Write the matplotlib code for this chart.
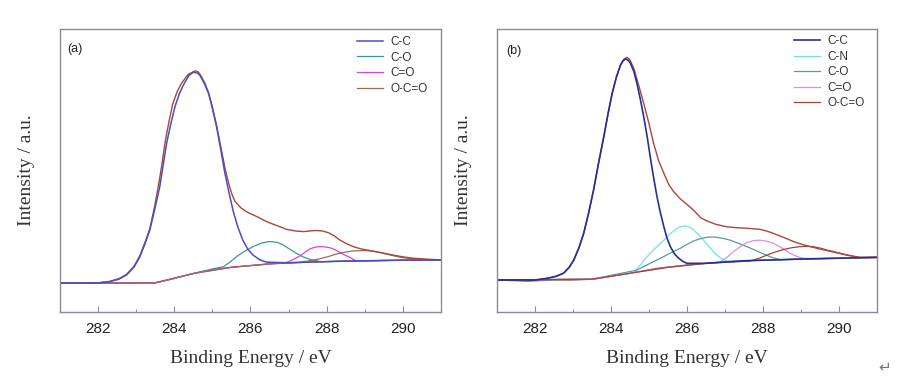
import matplotlib
matplotlib.use('Agg')
import matplotlib.pyplot as plt

# ---- panel (a) ----
bg_a_x = [281.0, 282.0, 283.0, 283.5, 284.0, 284.5, 285.0, 285.5, 286.0, 286.5, 287.0,
          287.5, 288.0, 288.5, 289.0, 289.5, 290.0, 290.5, 291.0]
bg_a_y = [0.102, 0.102, 0.102, 0.103, 0.118, 0.136, 0.150, 0.158, 0.164, 0.170, 0.173,
          0.176, 0.178, 0.180, 0.181, 0.182, 0.183, 0.184, 0.184]

cc_a_x = [281.0, 282.0, 282.3, 282.55, 282.75, 282.95, 283.1, 283.23, 283.36, 283.5, 283.62,
          283.71, 283.8, 283.91, 284.02, 284.13, 284.24, 284.38, 284.5, 284.6, 284.67,
          284.78, 284.9, 285.0, 285.11, 285.22, 285.33, 285.44, 285.55, 285.67, 285.8,
          285.93, 286.07, 286.25, 286.43, 287.0, 288.0, 289.0, 290.0, 291.0]
cc_a_y = [0.102, 0.103, 0.107, 0.116, 0.131, 0.16, 0.196, 0.24, 0.29, 0.37, 0.443,
          0.52, 0.596, 0.665, 0.726, 0.77, 0.802, 0.835, 0.847, 0.845, 0.837,
          0.81, 0.773, 0.72, 0.655, 0.575, 0.49, 0.42, 0.355, 0.3, 0.254,
          0.222, 0.201, 0.184, 0.176, 0.174, 0.178, 0.181, 0.183, 0.184]

env_a_x = [281.0, 282.0, 282.3, 282.55, 282.75, 282.95, 283.1, 283.23, 283.36, 283.48, 283.59,
           283.68, 283.76, 283.86, 283.96, 284.08, 284.2, 284.37, 284.55, 284.63, 284.7,
           284.8, 284.9, 285.0, 285.11, 285.22, 285.33, 285.4, 285.46, 285.53, 285.6,
           285.75, 285.9, 286.2, 286.43, 286.7, 286.95, 287.2, 287.4, 287.6, 287.74,
           287.9, 288.05, 288.2, 288.35, 288.5, 288.7, 288.9, 289.14, 289.5, 289.75,
           290.0, 290.27, 290.6, 291.0]
env_a_y = [0.102, 0.103, 0.108, 0.118, 0.133, 0.163, 0.2, 0.245, 0.295, 0.37, 0.45,
           0.525, 0.6, 0.672, 0.735, 0.78, 0.81, 0.84, 0.852, 0.848, 0.835,
           0.81, 0.775, 0.725, 0.66, 0.585, 0.51, 0.47, 0.44, 0.41, 0.39,
           0.368, 0.354, 0.335, 0.319, 0.305, 0.292, 0.286, 0.284, 0.287, 0.288,
           0.286, 0.28, 0.269, 0.254, 0.243, 0.231, 0.223, 0.217, 0.208, 0.201,
           0.195, 0.19, 0.187, 0.184]

co_a_x = [281.0, 283.5, 284.5, 285.0, 285.29, 285.45, 285.64, 285.85, 286.07, 286.3, 286.51,
          286.7, 286.86, 287.03, 287.21, 287.38, 287.56, 287.85, 288.5, 289.5, 291.0]
co_a_y = [0.102, 0.103, 0.136, 0.152, 0.16, 0.175, 0.196, 0.215, 0.231, 0.244, 0.249,
          0.246, 0.237, 0.222, 0.207, 0.195, 0.186, 0.178, 0.18, 0.182, 0.184]

cdo_a_x = [281.0, 283.5, 284.5, 285.5, 286.5, 286.95, 287.12, 287.3, 287.45, 287.56, 287.7,
           287.82, 287.95, 288.09, 288.22, 288.35, 288.48, 288.61, 288.78, 289.5, 291.0]
cdo_a_y = [0.102, 0.103, 0.136, 0.158, 0.170, 0.175, 0.185, 0.198, 0.213, 0.223, 0.229,
           0.231, 0.230, 0.227, 0.22, 0.21, 0.201, 0.193, 0.18, 0.182, 0.184]

occ_a_x = [281.0, 283.5, 284.5, 285.5, 286.5, 287.3, 287.55, 287.82, 288.05, 288.26, 288.5,
           288.7, 289.05, 289.25, 289.4, 289.62, 289.84, 290.05, 290.27, 290.6, 291.0]
occ_a_y = [0.102, 0.103, 0.136, 0.158, 0.170, 0.176, 0.181, 0.188, 0.196, 0.205, 0.212,
           0.216, 0.217, 0.214, 0.21, 0.203, 0.196, 0.191, 0.188, 0.185, 0.184]

# ---- panel (b) ----
bg_b_x = [281.0, 281.8, 282.5, 283.0, 283.55, 284.0, 284.5, 285.2, 285.6, 286.0, 286.5,
          287.05, 287.5, 288.0, 288.8, 289.5, 290.2, 291.0]
bg_b_y = [0.113, 0.109, 0.113, 0.113, 0.116, 0.126, 0.137, 0.154, 0.16, 0.166, 0.172,
          0.178, 0.181, 0.183, 0.186, 0.189, 0.191, 0.193]

cc_b_x = [281.0, 282.0, 282.32, 282.55, 282.75, 282.9, 283.02, 283.15, 283.28, 283.41, 283.54,
          283.67, 283.81, 283.92, 284.03, 284.14, 284.25, 284.32, 284.38, 284.45, 284.51,
          284.6, 284.68, 284.77, 284.86, 284.95, 285.03, 285.12, 285.21, 285.3, 285.39,
          285.47, 285.56, 285.67, 285.78, 285.9, 286.0, 286.5, 287.5, 289.0, 291.0]
cc_b_y = [0.113, 0.113, 0.119, 0.126, 0.137, 0.158, 0.184, 0.225, 0.278, 0.35, 0.431,
          0.525, 0.62, 0.7, 0.773, 0.83, 0.873, 0.888, 0.894, 0.89, 0.879,
          0.85, 0.808, 0.752, 0.69, 0.62, 0.549, 0.475, 0.407, 0.35, 0.301,
          0.262, 0.231, 0.205, 0.19, 0.178, 0.172, 0.172, 0.181, 0.187, 0.193]

env_b_x = [281.0, 282.0, 282.32, 282.55, 282.75, 282.9, 283.02, 283.15, 283.28, 283.41, 283.54,
           283.67, 283.81, 283.92, 284.03, 284.14, 284.25, 284.33, 284.42, 284.5, 284.6,
           284.72, 284.86, 285.0, 285.12, 285.25, 285.39, 285.52, 285.65, 285.82, 286.0,
           286.17, 286.36, 286.52, 286.75, 287.05, 287.3, 287.57, 287.92, 288.1, 288.27,
           288.55, 288.8, 289.0, 289.24, 289.45, 289.68, 289.95, 290.2, 290.4, 290.55, 291.0]
env_b_y = [0.113, 0.113, 0.119, 0.126, 0.137, 0.158, 0.184, 0.225, 0.278, 0.35, 0.431,
           0.525, 0.62, 0.7, 0.773, 0.83, 0.873, 0.892, 0.9, 0.89, 0.86,
           0.805, 0.737, 0.665, 0.596, 0.535, 0.49, 0.45, 0.425, 0.4, 0.38,
           0.36, 0.333, 0.322, 0.31, 0.301, 0.298, 0.296, 0.292, 0.286, 0.278,
           0.263, 0.249, 0.24, 0.231, 0.224, 0.217, 0.209, 0.201, 0.196, 0.193, 0.193]

cn_b_x = [281.0, 283.5, 284.6, 284.78, 284.95, 285.17, 285.39, 285.57, 285.74, 285.86, 285.96,
          286.06, 286.17, 286.3, 286.43, 286.6, 286.78, 286.92, 287.05, 288.0, 289.0, 291.0]
cn_b_y = [0.113, 0.116, 0.14, 0.168, 0.196, 0.226, 0.254, 0.278, 0.296, 0.302, 0.304,
          0.3, 0.29, 0.274, 0.254, 0.227, 0.201, 0.188, 0.18, 0.183, 0.187, 0.193]

co_b_x = [281.0, 283.5, 284.68, 285.0, 285.39, 285.6, 285.82, 286.0, 286.17, 286.35, 286.52,
          286.65, 286.78, 286.95, 287.13, 287.35, 287.57, 287.8, 288.01, 288.23, 288.45,
          289.0, 291.0]
co_b_y = [0.113, 0.116, 0.148, 0.17, 0.196, 0.211, 0.225, 0.239, 0.251, 0.259, 0.264,
          0.265, 0.264, 0.26, 0.254, 0.243, 0.231, 0.218, 0.205, 0.193, 0.185,
          0.187, 0.193]

cdo_b_x = [281.0, 283.5, 284.5, 285.5, 286.5, 286.87, 287.05, 287.22, 287.4, 287.57, 287.75,
           287.92, 288.1, 288.27, 288.5, 288.71, 288.9, 289.06, 289.5, 291.0]
cdo_b_y = [0.113, 0.116, 0.137, 0.158, 0.172, 0.177, 0.193, 0.213, 0.231, 0.245, 0.252,
           0.254, 0.25, 0.243, 0.226, 0.207, 0.196, 0.19, 0.189, 0.193]

occ_b_x = [281.0, 283.5, 284.5, 285.5, 286.5, 287.66, 287.9, 288.1, 288.32, 288.54, 288.75,
           288.97, 289.15, 289.32, 289.5, 289.68, 289.9, 290.11, 290.35, 290.55, 291.0]
occ_b_y = [0.113, 0.116, 0.137, 0.158, 0.172, 0.18, 0.19, 0.201, 0.212, 0.221, 0.227,
           0.231, 0.232, 0.231, 0.226, 0.219, 0.212, 0.205, 0.198, 0.193, 0.193]

xticks = [282, 284, 286, 288, 290]
minor_ticks = [283, 285, 287, 289]

serif = ['Liberation Serif', 'DejaVu Serif']
sans = ['Liberation Sans', 'DejaVu Sans']
spine_col = '#8a8a98'
env_col = '#a8473a'


def style_axes(ax, tag, tag_x, tag_y, ylabel_x):
    ax.set_xlim(281, 291)
    ax.set_ylim(0, 1)
    ax.set_yticks([])
    ax.set_xticks(xticks)
    ax.set_xticks(minor_ticks, minor=True)
    ax.tick_params(axis='x', which='major', direction='in', length=4, width=0.8,
                   color=spine_col, labelsize=11, pad=7)
    ax.tick_params(axis='x', which='minor', direction='in', length=2, width=0.8,
                   color=spine_col)
    for lab in ax.get_xticklabels():
        lab.set_family(sans)
        lab.set_color('#222222')
    for s in ax.spines.values():
        s.set_color(spine_col)
        s.set_linewidth(1.0)
    ax.set_xlabel('Binding Energy / eV', family=serif, fontsize=14, color='#333333',
                  labelpad=10)
    ax.set_ylabel('Intensity / a.u.', family=serif, fontsize=14, color='#333333')
    ax.yaxis.set_label_coords(ylabel_x, 0.5)
    ax.text(tag_x, tag_y, tag, transform=ax.transAxes, family=sans, fontsize=9,
            color='#222222', va='center', ha='left')


fig = plt.figure(figsize=(9.14, 3.78), dpi=100)
ax1 = fig.add_axes([0.0656, 0.1746, 0.4168, 0.7487])
ax2 = fig.add_axes([0.5438, 0.1746, 0.4158, 0.7487])

# panel (a)
ax1.plot(bg_a_x, bg_a_y, color='#9a4a3c', lw=0.9)
ax1.plot(co_a_x, co_a_y, color='#3a9898', lw=0.9, label='C-O')
ax1.plot(cdo_a_x, cdo_a_y, color='#e040e0', lw=0.9, label='C=O')
ax1.plot(occ_a_x, occ_a_y, color='#a0685a', lw=0.9, label='O-C=O')
ax1.plot(env_a_x, env_a_y, color=env_col, lw=1.0)
ax1.plot(cc_a_x, cc_a_y, color='#4a4ec0', lw=1.1, label='C-C')
style_axes(ax1, '(a)', 0.018, 0.929, -0.065)
h, l = ax1.get_legend_handles_labels()
order = [3, 0, 1, 2]
ax1.legend([h[i] for i in order], [l[i] for i in order], loc='upper left',
           bbox_to_anchor=(0.78, 0.975), frameon=False,
           prop={'family': sans, 'size': 8.5}, handlelength=2.2, handletextpad=0.6,
           labelspacing=0.3, borderpad=0, borderaxespad=0, labelcolor='#333333')

# panel (b)
ax2.plot(bg_b_x, bg_b_y, color='#9a4a3c', lw=0.9)
ax2.plot(cn_b_x, cn_b_y, color='#70e0f0', lw=0.9, label='C-N')
ax2.plot(co_b_x, co_b_y, color='#5a9aa0', lw=0.9, label='C-O')
ax2.plot(cdo_b_x, cdo_b_y, color='#d890e8', lw=0.9, label='C=O')
ax2.plot(occ_b_x, occ_b_y, color='#a04535', lw=0.9, label='O-C=O')
ax2.plot(env_b_x, env_b_y, color=env_col, lw=1.0)
ax2.plot(cc_b_x, cc_b_y, color='#26309a', lw=1.2, label='C-C')
style_axes(ax2, '(b)', 0.023, 0.922, -0.065)
h, l = ax2.get_legend_handles_labels()
order = [4, 0, 1, 2, 3]
ax2.legend([h[i] for i in order], [l[i] for i in order], loc='upper left',
           bbox_to_anchor=(0.782, 0.978), frameon=False,
           prop={'family': sans, 'size': 8.5}, handlelength=2.2, handletextpad=0.6,
           labelspacing=0.3, borderpad=0, borderaxespad=0, labelcolor='#333333')

fig.text(0.968, 0.03, '\u21b5', fontsize=11, color='#777777', family='DejaVu Sans',
         ha='center', va='center')

fig.savefig('out.png', dpi=100, facecolor='white')
